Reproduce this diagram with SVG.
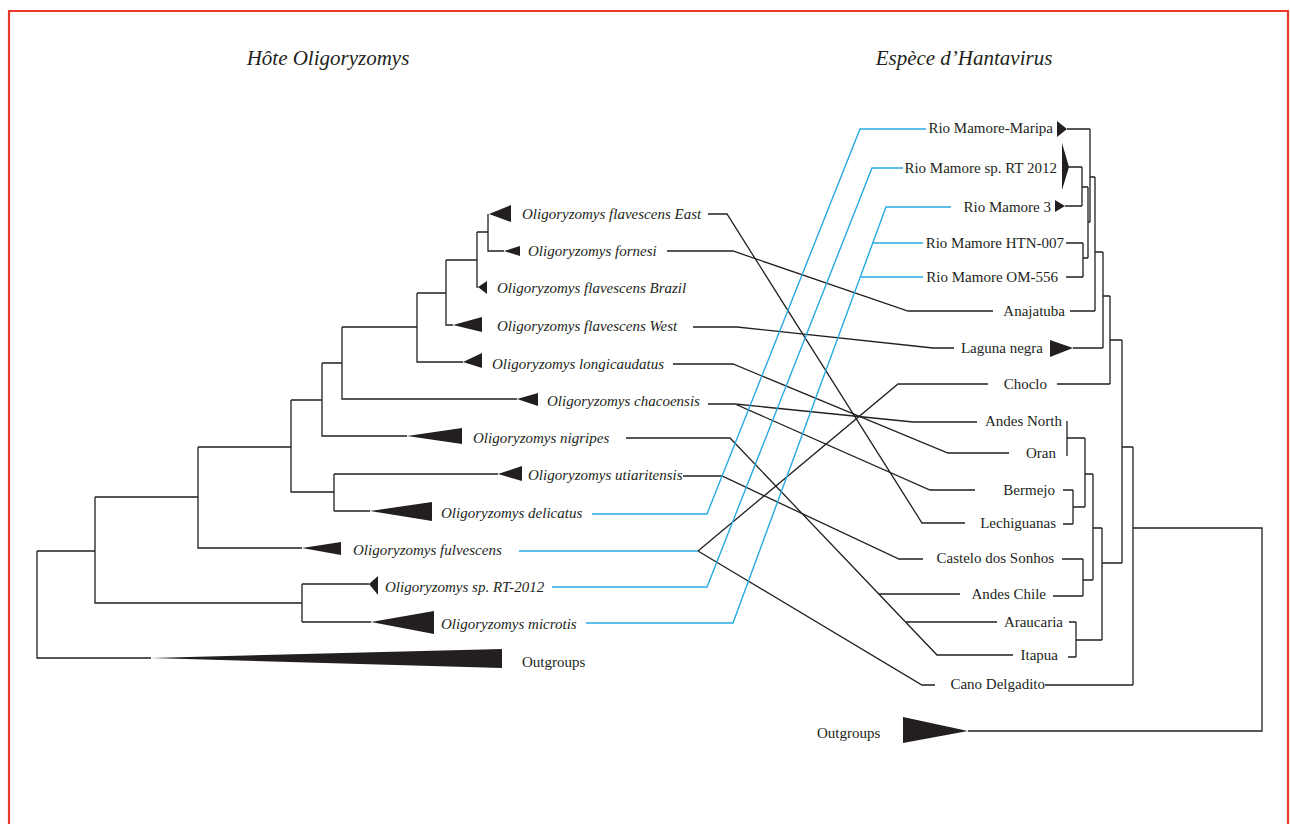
<svg xmlns="http://www.w3.org/2000/svg" width="1290" height="824" viewBox="0 0 1290 824">
<style>
 .t{font-family:"Liberation Serif","Times New Roman",serif;font-size:15px;fill:#231f20}
 .i{font-style:italic}
 .r{text-anchor:end}
 .title{font-family:"Liberation Serif","Times New Roman",serif;font-size:21px;font-style:italic;fill:#231f20;text-anchor:middle}
 .br{fill:none;stroke:#231f20;stroke-width:1.3}
 .bl{fill:none;stroke:#27aae1;stroke-width:1.4}
 .tri{fill:#231f20}
</style>
<rect width="1290" height="824" fill="#fff"/>
<path d="M9,824 V11 H1288 V824" fill="none" stroke="#e8392b" stroke-width="2.2"/>
<text class="title" x="328" y="65">Hôte Oligoryzomys</text>
<text class="title" x="964" y="65">Espèce d’Hantavirus</text>

<g id="left-branches" class="br">
 <path d="M488,214 V251 H504 M477,232 H488 M477,232 V287 H478 M446,260 H477 M446,260 V325 H453 M417,293 H446 M417,293 V362 H463 M342,327 H417 M342,327 V399 H517 M322,363 H342 M322,363 V436 H407 M291,400 H322 M291,400 V492 H334 M334,474 V511 M334,474 H498 M334,511 H370 M198,447 H291 M198,447 V548 H302 M95,497 H198 M95,497 V603 H302 M302,584 V622 M302,584 H369 M302,622 H371 M37,551 H95 M37,551 V658 H151"/>
</g>

<g id="h-east"><polygon class="tri" points="489,214 511,205 511,222"/><text class="t i" x="522" y="219">Oligoryzomys flavescens East</text></g>
<g id="h-fornesi"><polygon class="tri" points="504,251 520,246 520,256"/><text class="t i" x="528" y="256">Oligoryzomys fornesi</text></g>
<g id="h-brazil"><polygon class="tri" points="478,287 487,281 487,294"/><text class="t i" x="497" y="293">Oligoryzomys flavescens Brazil</text></g>
<g id="h-west"><polygon class="tri" points="453,325 482,317 482,332"/><text class="t i" x="497" y="331">Oligoryzomys flavescens West</text></g>
<g id="h-longicaudatus"><polygon class="tri" points="463,362 482,353 482,368"/><text class="t i" x="492" y="369">Oligoryzomys longicaudatus</text></g>
<g id="h-chacoensis"><polygon class="tri" points="517,399 538,393 538,406"/><text class="t i" x="547" y="406">Oligoryzomys chacoensis</text></g>
<g id="h-nigripes"><polygon class="tri" points="407,436 462,428 462,444"/><text class="t i" x="473" y="443">Oligoryzomys nigripes</text></g>
<g id="h-utiaritensis"><polygon class="tri" points="498,474 522,466 522,481"/><text class="t i" x="528" y="480">Oligoryzomys utiaritensis</text></g>
<g id="h-delicatus"><polygon class="tri" points="370,511 432,502 432,521"/><text class="t i" x="441" y="518">Oligoryzomys delicatus</text></g>
<g id="h-fulvescens"><polygon class="tri" points="302,548 341,542 341,555"/><text class="t i" x="353" y="555">Oligoryzomys fulvescens</text></g>
<g id="h-rt2012"><polygon class="tri" points="369,584 378,576 378,595"/><text class="t i" x="385" y="592">Oligoryzomys sp. RT-2012</text></g>
<g id="h-microtis"><polygon class="tri" points="371,622 434,611 434,634"/><text class="t i" x="441" y="629">Oligoryzomys microtis</text></g>
<g id="h-outgroups"><polygon class="tri" points="151,658 502,649 502,668"/><text class="t" x="522" y="667">Outgroups</text></g>

<g id="right-branches" class="br">
 <path d="M1067,129 H1090 M1068,167 H1082 M1065,206 H1082 M1082,167 V206 M1082,187 H1088 M1066,243 H1083 M1066,277 H1083 M1083,243 V277 M1083,258 H1088 M1088,187 V258 M1088,222 H1090 M1090,129 V222 M1090,177 H1095 M1070,311 H1095 M1095,177 V311 M1095,252 H1103 M1073,348 H1103 M1103,252 V348 M1103,296 H1110 M1057,384 H1110 M1110,296 V384 M1110,340 H1122 M1067,421 V456 M1067,438 H1085 M1063,490 H1073 M1063,524 H1073 M1073,490 V524 M1073,507 H1085 M1085,438 V507 M1085,474 H1093 M1062,559 H1083 M1053,596 H1083 M1083,559 V596 M1083,580 H1093 M1093,474 V580 M1093,528 H1102 M1069,622 H1076 M1068,657 H1076 M1076,622 V657 M1076,640 H1102 M1102,528 V640 M1102,563 H1122 M1122,340 V563 M1122,447 H1133 M1045,685 H1133 M1133,447 V685 M1133,528 H1262 V731 H968"/>
</g>

<g id="v-maripa"><polygon class="tri" points="1057,121 1057,137 1067,129"/><text class="t r" x="1053" y="133">Rio Mamore-Maripa</text></g>
<g id="v-rt2012"><polygon class="tri" points="1062,143 1062,190 1069,167"/><text class="t r" x="1057" y="173">Rio Mamore sp. RT 2012</text></g>
<g id="v-rm3"><polygon class="tri" points="1055,200 1055,212 1065,206"/><text class="t r" x="1051" y="212">Rio Mamore 3</text></g>
<g id="v-htn007"><text class="t r" x="1064" y="248">Rio Mamore HTN-007</text></g>
<g id="v-om556"><text class="t r" x="1058" y="282">Rio Mamore OM-556</text></g>
<g id="v-anajatuba"><text class="t r" x="1065" y="316">Anajatuba</text></g>
<g id="v-laguna"><polygon class="tri" points="1050,340 1050,357 1073,348"/><text class="t r" x="1043" y="353">Laguna negra</text></g>
<g id="v-choclo"><text class="t r" x="1047" y="389">Choclo</text></g>
<g id="v-andesnorth"><text class="t r" x="1062" y="426">Andes North</text></g>
<g id="v-oran"><text class="t r" x="1056" y="458">Oran</text></g>
<g id="v-bermejo"><text class="t r" x="1055" y="495">Bermejo</text></g>
<g id="v-lechiguanas"><text class="t r" x="1056" y="528">Lechiguanas</text></g>
<g id="v-castelo"><text class="t r" x="1054" y="563">Castelo dos Sonhos</text></g>
<g id="v-andeschile"><text class="t r" x="1046" y="599">Andes Chile</text></g>
<g id="v-araucaria"><text class="t r" x="1063" y="627">Araucaria</text></g>
<g id="v-itapua"><text class="t r" x="1058" y="660">Itapua</text></g>
<g id="v-cano"><text class="t r" x="1045" y="689">Cano Delgadito</text></g>
<g id="v-outgroups"><polygon class="tri" points="903,717 903,743 968,731"/><text class="t" x="817" y="738">Outgroups</text></g>

<g id="connectors">
 <g class="br">
  <path d="M708,214 H727 L922,523 H965"/>
  <path d="M667,251 H733 L908,311 H993"/>
  <path d="M693,327 H737 L933,348 H954"/>
  <path d="M673,364 H733 L948,453 H1009"/>
  <path d="M708,404 H735 L913,422 H977 M735,404 L930,490 H975"/>
  <path d="M626,438 H730 L937,655 H1013 M879,594 H960 M906,622 H997"/>
  <path d="M683,476 H722 L899,559 H923"/>
  <path d="M698,551 L898,384 H988 M698,551 L922,685 H935"/>
 </g>
 <g class="bl">
  <path d="M592,514 H707 L860,129 H926"/>
  <path d="M519,551 H698"/>
  <path d="M552,587 H707 L872,168 H903"/>
  <path d="M586,623 H733 L886,207 H951 M873,243 H923 M861,277 H923"/>
 </g>
</g>
</svg>
